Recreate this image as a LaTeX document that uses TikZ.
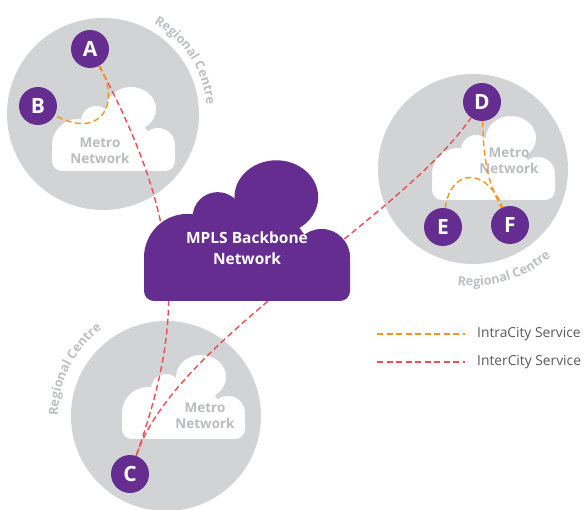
\documentclass[tikz,border=0pt]{standalone}
\usepackage{fontspec}
\setmainfont{Open Sans}
\usetikzlibrary{decorations.text}
\definecolor{purp}{RGB}{102,45,145}
\definecolor{ring}{RGB}{209,211,212}
\definecolor{metrotxt}{RGB}{186,188,190}
\definecolor{regtxt}{RGB}{190,191,193}
\definecolor{intra}{RGB}{247,148,29}
\definecolor{inter}{RGB}{238,77,85}
\definecolor{legtxt}{RGB}{89,89,89}
\tikzset{
  city/.style={circle, fill=purp, text=white, minimum size=38pt, inner sep=0pt, font=\bfseries\fontsize{21}{21}\selectfont},
  intraline/.style={intra, line width=1.4pt, dash pattern=on 6pt off 3.5pt},
  interline/.style={inter, line width=1.4pt, dash pattern=on 6pt off 3.5pt},
  metro/.style={text=metrotxt, font=\bfseries\fontsize{13.5}{16}\selectfont, align=center, inner sep=0pt},
  mpls/.style={text=white, font=\bfseries\fontsize{15.5}{21}\selectfont, align=center, inner sep=0pt},
  legend/.style={text=legtxt, font=\fontsize{13.8}{13.8}\selectfont, inner sep=0pt},
  regional/.style={decorate, decoration={text along path, text align=center,
     text={|\bfseries\fontsize{12.7}{12.7}\selectfont\color{regtxt}|Regional Centre}}}
}
% cloud: #1,#2 = left, bottom (pixels); #3 = scale; #4 = colour
\newcommand\cloudshape[4]{%
  \begin{scope}[shift={(#1,#2)}, scale=#3, yscale=-1]
    \fill[#4,rounded corners=10] (0,0) rectangle (123,30);
    \fill[#4] (26,26) circle[radius=26];
    \fill[#4] (44,50) circle[radius=15];
    \fill[#4] (79,62) ellipse[x radius=25, y radius=22];
    \fill[#4] (106,26) circle[radius=17];
    \fill[#4] (20,20) -- (44,50) -- (79,62) -- (106,26) -- cycle;
  \end{scope}}
\begin{document}
\begin{tikzpicture}[x=1pt,y=-1pt]
\useasboundingbox (0,0) rectangle (584,510);
% regional rings
\fill[ring] (103,114) circle[radius=96];
\fill[ring] (473,169) circle[radius=95];
\fill[ring] (166,416) circle[radius=95];
% regional labels
\path[regional] ([shift={(-80:104)}]103,114) arc[start angle=-80, end angle=14, radius=104];
\path[regional] ([shift={(160:108)}]166,416) arc[start angle=160, end angle=254, radius=108];
\path[regional] ([shift={(120:117)}]473,169) arc[start angle=120, end angle=26, radius=117];
% metro clouds
\cloudshape{52}{171}{1}{white}
\cloudshape{432}{200}{1}{white}
\cloudshape{122}{439}{1}{white}
\node[metro] (m1) at (100,151) {Metro\\Network};
\node[metro] (m2) at (509,161) {Metro\\Network};
\node[metro] (m3) at (205,416) {Metro\\Network};
% city nodes
\node[city] (A) at (90,49) {A};
\node[city] (B) at (38,106) {B};
\node[city] (C) at (130,474) {C};
\node[city] (D) at (482,102) {D};
\node[city] (E) at (443,227) {E};
\node[city] (F) at (510,225) {F};
% services
\draw[interline] (A) .. controls (190,235) and (180,330) .. (C);
\draw[interline] (C) .. controls (175,340) and (400,220) .. (D);
\draw[intraline] (A) .. controls (122,105) and (100,140) .. (B);
\draw[intraline] (D) .. controls (484,170) and (490,185) .. (F);
\draw[intraline] (E) .. controls (450,170) and (485,165) .. (F);
% MPLS backbone cloud
\cloudshape{144}{301}{1.675}{purp}
\node[mpls] (mpls) at (247,248) {MPLS Backbone\\Network};
% legend
\coordinate (ia) at (377,334);
\coordinate (ib) at (465,334);
\coordinate (ea) at (377,362);
\coordinate (eb) at (465,362);
\draw[intraline] (ia) -- (ib);
\draw[interline] (ea) -- (eb);
\node[legend, anchor=west] (it) at (477,334) {IntraCity Service};
\node[legend, anchor=west] (et) at (477,362) {InterCity Service};
\end{tikzpicture}
\end{document}
